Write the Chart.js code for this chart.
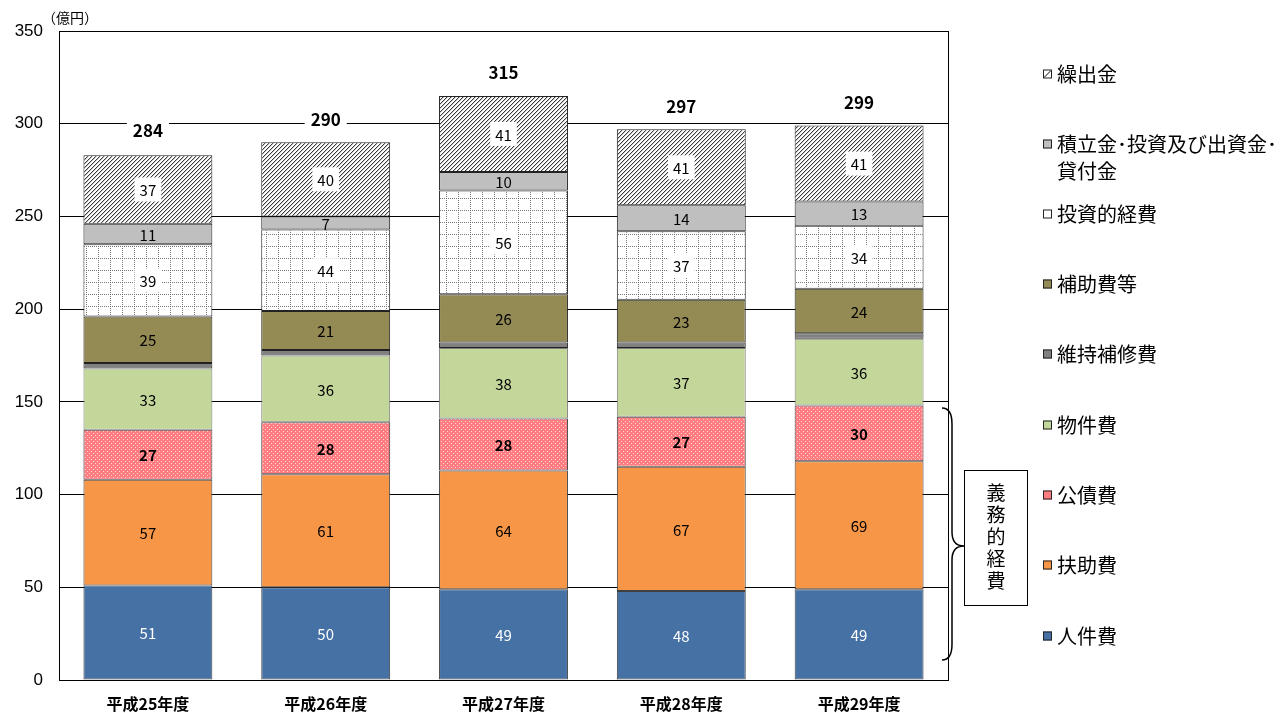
<!DOCTYPE html>
<html>
<head>
<meta charset="utf-8">
<script src="https://cdn.jsdelivr.net/npm/chart.js@4/dist/chart.umd.min.js"></script>
<style>
  html, body { margin: 0; padding: 0; background: #fff; }
  #wrap { position: relative; width: 1287px; height: 713px; }
</style>
</head>
<body>
<div id="wrap"><canvas id="chart" width="1287" height="713"></canvas></div>
<script>
    // data (億円)
    var years = ['平成25年度', '平成26年度', '平成27年度', '平成28年度', '平成29年度'];
    var jinkenhi   = [51, 50, 49, 48, 49];   // 人件費
    var fujohi     = [57, 61, 64, 67, 69];   // 扶助費
    var kosaihi    = [27, 28, 28, 27, 30];   // 公債費
    var bukkenhi   = [33, 36, 38, 37, 36];   // 物件費
    var ijihoshu   = [3, 3, 3, 3, 3];        // 維持補修費 (no label)
    var hojohi     = [25, 21, 26, 23, 24];   // 補助費等
    var toshiteki  = [39, 44, 56, 37, 34];   // 投資的経費
    var tsumitate  = [11, 7, 10, 14, 13];    // 積立金・投資及び出資金・貸付金
    var kuridashi  = [37, 40, 41, 41, 41];   // 繰出金
    var totals     = [284, 290, 315, 297, 299];
    var yTicks     = [0, 50, 100, 150, 200, 250, 300, 350];

    var JP = '"Noto Sans CJK JP", "Noto Sans", sans-serif';
    var NUM = '"Liberation Sans", Arial, sans-serif';

    // patterns
    function makePattern(w, h, draw) {
        var c = document.createElement('canvas');
        c.width = w; c.height = h;
        var g = c.getContext('2d');
        draw(g, w, h);
        return document.getElementById('chart').getContext('2d').createPattern(c, 'repeat');
    }
    var hatch = makePattern(4, 4, function(g, w, h) {
        g.fillStyle = '#fff'; g.fillRect(0, 0, w, h);
        g.fillStyle = '#3a3a3a';
        for (var i = 0; i < 4; i++) { g.fillRect(3 - i, i, 1, 1); }
        g.fillStyle = '#c8c8c8';
        for (var i = 0; i < 4; i++) { g.fillRect((4 - i) % 4, i, 1, 1); }
    });
    var dots = makePattern(4, 4, function(g, w, h) {
        g.fillStyle = '#ff7c80'; g.fillRect(0, 0, w, h);
        g.fillStyle = '#ffd6d6';
        g.fillRect(1, 1, 1, 1);
        g.fillRect(3, 3, 1, 1);
    });
    var gridPat = makePattern(12, 12, function(g, w, h) {
        g.fillStyle = '#fff'; g.fillRect(0, 0, w, h);
        g.fillStyle = '#777';
        for (var i = 0; i < 12; i += 2) { g.fillRect(2, i, 1, 1); g.fillRect(i, 6, 1, 1); }
    });

    var seriesDefs = [
        { label: '人件費', data: jinkenhi, bg: '#4671a5', border: '#404040', font: '#fff', bold: false, box: false },
        { label: '扶助費', data: fujohi, bg: '#f79646', border: '#404040', font: '#000', bold: false, box: false },
        { label: '公債費', data: kosaihi, bg: dots, border: '#404040', font: '#000', bold: true, box: false, swatch: '#ff7c80' },
        { label: '物件費', data: bukkenhi, bg: '#c4d79b', border: '#7f7f7f', font: '#000', bold: false, box: false },
        { label: '維持補修費', data: ijihoshu, bg: '#808080', border: '#222', font: null },
        { label: '補助費等', data: hojohi, bg: '#948a54', border: '#222', font: '#000', bold: false, box: false },
        { label: '投資的経費', data: toshiteki, bg: gridPat, border: '#222', font: '#000', bold: false, box: true, swatch: '#fff' },
        { label: '積立金･投資及び出資金･|貸付金', data: tsumitate, bg: '#bfbfbf', border: '#222', font: '#000', bold: false, box: false },
        { label: '繰出金', data: kuridashi, bg: hatch, border: '#222', font: '#000', bold: false, box: true, swatch: 'hatch' }
    ];

    var datasets = seriesDefs.map(function(s) {
        return {
            label: s.label,
            data: s.data,
            backgroundColor: s.bg,
            borderColor: s.border,
            borderWidth: 1,
            borderSkipped: false,
            categoryPercentage: 0.725,
            barPercentage: 1.0,
            stack: 'all'
        };
    });

    var labelPlugin = {
        id: 'segLabels',
        afterDatasetsDraw: function(chart) {
            var ctx = chart.ctx;
            var area = chart.chartArea;
            var y = chart.scales.y;
            ctx.save();
            // segment labels
            seriesDefs.forEach(function(s, di) {
                if (!s.font) return;
                var meta = chart.getDatasetMeta(di);
                meta.data.forEach(function(bar, i) {
                    var cy = (bar.y + bar.base) / 2;
                    var txt = String(s.data[i]);
                    ctx.font = (s.bold ? 'bold ' : '') + '15px ' + JP;
                    ctx.textAlign = 'center';
                    ctx.textBaseline = 'middle';
                    if (s.box) {
                        var tw = ctx.measureText(txt).width;
                        ctx.fillStyle = '#fff';
                        ctx.fillRect(bar.x - tw / 2 - 5, cy - 12, tw + 10, 24);
                    }
                    ctx.fillStyle = s.font;
                    ctx.fillText(txt, bar.x, cy + 1);
                });
            });
            // totals
            var topMeta = chart.getDatasetMeta(seriesDefs.length - 1);
            topMeta.data.forEach(function(bar, i) {
                var ty = y.getPixelForValue(totals[i]) - 23;
                ctx.font = 'bold 17px ' + JP;
                var tw = ctx.measureText(String(totals[i])).width;
                ctx.fillStyle = '#fff';
                ctx.fillRect(bar.x - tw / 2 - 6, ty - 11, tw + 12, 22);
                ctx.fillStyle = '#000';
                ctx.textAlign = 'center';
                ctx.textBaseline = 'middle';
                ctx.fillText(String(totals[i]), bar.x, ty);
            });

            // plot frame
            ctx.strokeStyle = '#000';
            ctx.lineWidth = 1;
            ctx.strokeRect(area.left + 0.5, area.top + 0.5, area.right - area.left, area.bottom - area.top);

            // unit
            ctx.font = '14px ' + JP;
            ctx.fillStyle = '#000';
            ctx.textAlign = 'left';
            ctx.textBaseline = 'middle';
            ctx.fillText('（億円）', 42, 18);

            // legend on the right
            var ly = [74, 144, 214, 284, 354, 425, 495, 565, 636];
            var order = seriesDefs.slice().reverse();
            order.forEach(function(s, k) {
                var yy = ly[k];
                var sx = 1043, sz = 9;
                var fill = s.swatch || s.bg;
                if (fill === 'hatch') {
                    ctx.fillStyle = '#fff';
                    ctx.fillRect(sx, yy - sz / 2, sz, sz);
                    ctx.strokeStyle = '#000';
                    ctx.beginPath();
                    ctx.moveTo(sx + 1, yy + sz / 2 - 1);
                    ctx.lineTo(sx + sz - 1, yy - sz / 2 + 1);
                    ctx.stroke();
                } else {
                    ctx.fillStyle = fill;
                    ctx.fillRect(sx, yy - sz / 2, sz, sz);
                }
                ctx.strokeStyle = '#222';
                ctx.lineWidth = 1;
                ctx.strokeRect(sx + 0.5, yy - sz / 2 + 0.5, sz - 1, sz - 1);
                ctx.fillStyle = '#000';
                ctx.font = '20px ' + JP;
                ctx.textAlign = 'left';
                ctx.textBaseline = 'middle';
                var parts = s.label.split('|');
                ctx.fillText(parts[0], sx + 14, yy);
                if (parts[1]) ctx.fillText(parts[1], sx + 14, yy + 27);
            });

            // brace for 義務的経費
            var bx = 942, top = 408, bot = 660, mid = 546;
            ctx.strokeStyle = '#000';
            ctx.lineWidth = 1.5;
            ctx.beginPath();
            ctx.moveTo(bx, top);
            ctx.quadraticCurveTo(bx + 10, top, bx + 10, top + 16);
            ctx.lineTo(bx + 10, mid - 14);
            ctx.quadraticCurveTo(bx + 10, mid, bx + 22, mid);
            ctx.quadraticCurveTo(bx + 10, mid, bx + 10, mid + 14);
            ctx.lineTo(bx + 10, bot - 16);
            ctx.quadraticCurveTo(bx + 10, bot, bx, bot);
            ctx.stroke();
            ctx.lineWidth = 1;
            ctx.fillStyle = '#fff';
            ctx.fillRect(964, 470, 63, 135);
            ctx.strokeRect(964.5, 470.5, 63, 135);
            ctx.fillStyle = '#000';
            ctx.font = '19px ' + JP;
            ctx.textAlign = 'center';
            var vt = '義務的経費';
            for (var c = 0; c < vt.length; c++) {
                ctx.fillText(vt[c], 996, 493 + c * 22);
            }
            ctx.restore();
        }
    };

    new Chart(document.getElementById('chart'), {
        type: 'bar',
        data: { labels: years, datasets: datasets },
        plugins: [labelPlugin],
        options: {
            responsive: false,
            animation: false,
            layout: { padding: { left: 0, right: 339, top: 31, bottom: 0 } },
            plugins: {
                legend: { display: false },
                tooltip: { enabled: false }
            },
            scales: {
                x: {
                    stacked: true,
                    grid: { display: false },
                    border: { display: false },
                    ticks: {
                        color: '#000',
                        padding: 6,
                        font: { family: JP, size: 16, weight: 'bold' }
                    },
                    afterFit: function(scale) { scale.height = 33; }
                },
                y: {
                    stacked: true,
                    min: 0,
                    max: 350,
                    afterBuildTicks: function(scale) {
                        scale.ticks = yTicks.map(function(v) { return { value: v }; });
                    },
                    grid: { color: '#000', lineWidth: 1, drawTicks: false },
                    border: { display: true, color: '#000' },
                    ticks: {
                        color: '#000',
                        padding: 16,
                        font: { family: NUM, size: 17 }
                    },
                    afterFit: function(scale) { scale.width = 59; }
                }
            }
        }
    });
</script>
</body>
</html>
